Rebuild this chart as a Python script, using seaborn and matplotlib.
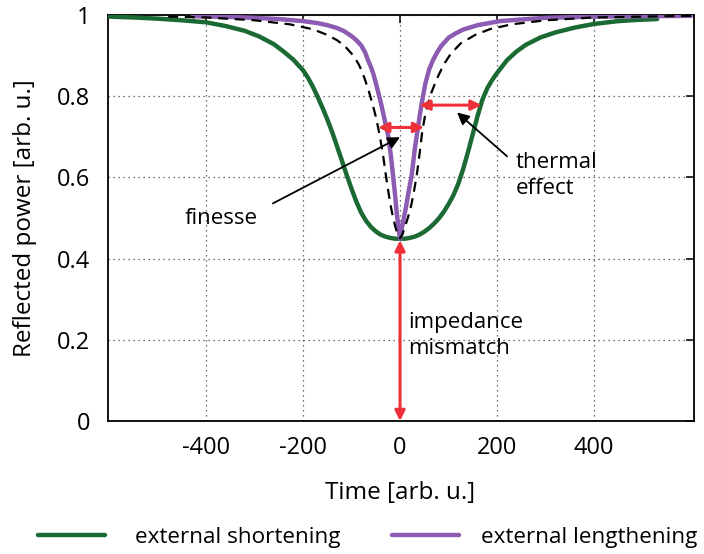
import numpy as np
import pandas as pd
import matplotlib
matplotlib.use("Agg")
import matplotlib.pyplot as plt
import seaborn as sns

# ---------------- data ----------------
green_t = [-600, -550, -500, -450, -400, -360, -320, -290, -260, -240, -220, -200, -190, -180, -170, -160, -150,
           -140, -130, -120, -110, -100, -90, -80, -70, -60, -50, -40, -30, -20, -10, 0,
           10, 20, 30, 40, 50, 60, 70, 80, 90, 100, 110, 120, 130, 140, 150, 160, 170, 180, 190, 200,
           220, 240, 260, 290, 320, 360, 400, 450, 490, 530]
green_r = [0.996, 0.994, 0.991, 0.987, 0.982, 0.973, 0.961, 0.947, 0.928, 0.910, 0.890, 0.864, 0.846, 0.824, 0.799, 0.772, 0.743,
           0.712, 0.677, 0.642, 0.606, 0.572, 0.540, 0.513, 0.493, 0.478, 0.467, 0.459, 0.454, 0.451, 0.449, 0.449,
           0.449, 0.451, 0.454, 0.459, 0.466, 0.475, 0.486, 0.499, 0.515, 0.534, 0.556, 0.584, 0.620, 0.662, 0.707, 0.752, 0.792, 0.820, 0.840, 0.857,
           0.888, 0.910, 0.927, 0.945, 0.957, 0.969, 0.978, 0.985, 0.988, 0.990]

purple_t = [-427, -350, -300, -250, -200, -170, -150, -130, -115, -100, -90, -80, -72, -66, -60, -55, -50, -45, -40,
            -35, -30, -24, -19, -14, -10, -7, -3, 0,
            3, 7, 12, 17, 24, 28, 31, 37, 41, 45, 52, 60, 68, 76, 85, 100, 115, 130, 160, 206, 250, 300, 400, 500, 600]
purple_r = [0.997, 0.995, 0.993, 0.990, 0.985, 0.980, 0.975, 0.968, 0.960, 0.948, 0.938, 0.925, 0.908, 0.889, 0.872, 0.855, 0.833, 0.810, 0.786,
            0.760, 0.732, 0.700, 0.655, 0.600, 0.555, 0.515, 0.475, 0.449,
            0.470, 0.495, 0.525, 0.560, 0.605, 0.645, 0.675, 0.723, 0.755, 0.785, 0.830, 0.866, 0.889, 0.907, 0.924, 0.944, 0.955, 0.964, 0.975, 0.985, 0.989, 0.993, 0.996, 0.997, 0.998]

dash_t = [-478, -400, -300, -227, -180, -150, -130, -115, -100, -92, -85, -78, -72, -65, -57, -50, -45, -40, -35, -30,
          -25, -20, -15, -10, -5, 0,
          5, 10, 16, 21, 28, 35, 41, 46, 52, 58, 65, 76, 90, 105, 125, 155, 185, 230, 300, 400, 500, 600]
dash_r = [0.996, 0.994, 0.987, 0.977, 0.965, 0.951, 0.938, 0.925, 0.905, 0.892, 0.878, 0.860, 0.840, 0.815, 0.782, 0.750, 0.722, 0.690, 0.655, 0.612,
          0.572, 0.535, 0.505, 0.480, 0.460, 0.450,
          0.460, 0.478, 0.500, 0.520, 0.560, 0.610, 0.665, 0.715, 0.755, 0.783, 0.810, 0.843, 0.878, 0.905, 0.930, 0.951, 0.965, 0.977, 0.987, 0.994, 0.996, 0.998]

x_ticks = [-400, -200, 0, 200, 400]
x_tick_labels = ["-400", "-200", "0", "200", "400"]
y_ticks = [0, 0.2, 0.4, 0.6, 0.8, 1.0]
y_tick_labels = ["0", "0.2", "0.4", "0.6", "0.8", "1"]

series_names = ["external shortening", "external lengthening"]

# ---------------- style ----------------
sns.set_theme(style="white")
plt.rcParams["font.family"] = ["Open Sans", "DejaVu Sans"]
plt.rcParams["text.color"] = "black"
plt.rcParams["axes.labelcolor"] = "black"
plt.rcParams["xtick.color"] = "black"
plt.rcParams["ytick.color"] = "black"

GREEN = "#1b6a34"
PURPLE = "#8c5cb2"
RED = "#ee3038"

fig = plt.figure(figsize=(7.04, 5.54), dpi=100)
W, H = 704, 554
ax = fig.add_axes([108 / W, 1 - 421 / H, (694 - 108) / W, (421 - 15) / H])

df_g = pd.DataFrame({"t": green_t, "r": green_r})
df_p = pd.DataFrame({"t": purple_t, "r": purple_r})
df_d = pd.DataFrame({"t": dash_t, "r": dash_r})

sns.lineplot(data=df_g, x="t", y="r", ax=ax, color=GREEN, lw=3.2, label=series_names[0], zorder=3)
sns.lineplot(data=df_p, x="t", y="r", ax=ax, color=PURPLE, lw=3.2, label=series_names[1], zorder=4)
sns.lineplot(data=df_d, x="t", y="r", ax=ax, color="black", lw=1.6, zorder=5)
ax.lines[-1].set_dashes((4.5, 3))
for ln in ax.lines:
    ln.set_solid_joinstyle("round")

ax.set_xlim(-602, 606)
ax.set_ylim(0, 1)
ax.set_xticks(x_ticks)
ax.set_xticklabels(x_tick_labels)
ax.set_yticks(y_ticks)
ax.set_yticklabels(y_tick_labels)
ax.set_xlabel("")
ax.set_ylabel("")
ax.grid(True, color="#444444", linestyle=(0, (1, 3)), linewidth=0.9)
ax.tick_params(direction="in", length=6, width=1.1, top=True, right=True,
               labelsize=17, colors="black")
ax.tick_params(axis="x", pad=11)
ax.tick_params(axis="y", pad=13)
for s in ax.spines.values():
    s.set_visible(True)
    s.set_color("black")
    s.set_linewidth(1.3)

fig.text(400 / W, 1 - 493 / H, "Time [arb. u.]", ha="center", va="center", fontsize=17.5, color="black")
fig.text(25 / W, 1 - 218 / H, "Reflected power [arb. u.]", ha="center", va="center",
         rotation=90, fontsize=17.5, color="black")

# ---------------- annotations ----------------
red_kw = dict(arrowstyle="<|-|>", color=RED, lw=2.2, mutation_scale=15, shrinkA=0, shrinkB=0)
ax.annotate("", xy=(-45, 0.723), xytext=(49.5, 0.723), arrowprops=red_kw, zorder=6)
ax.annotate("", xy=(40, 0.778), xytext=(168, 0.778), arrowprops=red_kw, zorder=6)
ax.annotate("", xy=(0, 0.0), xytext=(0, 0.445), arrowprops=red_kw, zorder=6)

blk_kw = dict(arrowstyle="-|>", color="black", lw=1.3, mutation_scale=18, shrinkA=0, shrinkB=0)
ax.annotate("", xy=(0, 0.699), xytext=(-262, 0.536), arrowprops=blk_kw, zorder=7)
ax.annotate("", xy=(117.5, 0.760), xytext=(220.6, 0.652), arrowprops=blk_kw, zorder=7)

ax.text(-369, 0.499, "finesse", ha="center", va="center", fontsize=16, color="black")
ax.text(239, 0.605, "thermal\neffect", ha="left", va="center", fontsize=16, linespacing=1.3, color="black")
ax.text(16.5, 0.21, "impedance\nmismatch", ha="left", va="center", fontsize=16, linespacing=1.3, color="black")

# ---------------- legend (one entry per box, as in the reference) ----------------
handles, labels = ax.get_legend_handles_labels()
if ax.get_legend():
    ax.get_legend().remove()
leg_kw = dict(loc="center left", frameon=False, fontsize=16.2, borderpad=0, borderaxespad=0,
              handlelength=3.0)
leg1 = fig.legend(handles[:1], labels[:1], bbox_to_anchor=(38 / W, 1 - 537 / H),
                  handletextpad=1.3, **leg_kw)
leg2 = fig.legend(handles[1:2], labels[1:2], bbox_to_anchor=(392 / W, 1 - 537 / H),
                  handletextpad=0.95, **leg_kw)
for lg in (leg1, leg2):
    for t in lg.get_texts():
        t.set_color("black")

fig.savefig("out.png", dpi=100)
